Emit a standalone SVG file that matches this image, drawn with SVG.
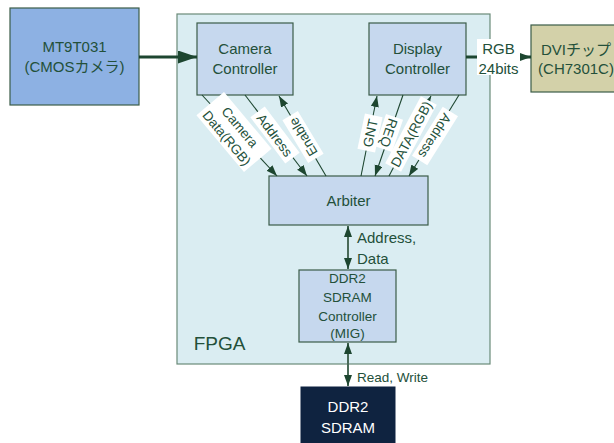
<svg xmlns="http://www.w3.org/2000/svg" width="614" height="443" viewBox="0 0 614 443">
<defs>
<style>
text{font-family:"Liberation Sans","Noto Sans CJK JP",sans-serif;fill:#23503a;text-anchor:middle}
.n{font-size:15px}
.s{font-size:13.5px}
.l{font-size:13.5px}
.box{fill:#c6d8ee;stroke:#3b5c48;stroke-width:1.2}
.lbl{fill:#ffffff}
.d{stroke:#1d4630;stroke-width:1.1;fill:none}
.v{stroke:#4a6a58;stroke-width:2;fill:none}
</style>
<marker id="ah" markerUnits="userSpaceOnUse" markerWidth="12" markerHeight="10" refX="11" refY="4" orient="auto">
<path d="M0,0 L11,4 L0,8 Z" fill="#1d4630"/>
</marker>
<marker id="ahs" markerUnits="userSpaceOnUse" markerWidth="12" markerHeight="10" refX="11" refY="4" orient="auto-start-reverse">
<path d="M0,0 L11,4 L0,8 Z" fill="#1d4630"/>
</marker>
<marker id="ahb" markerUnits="userSpaceOnUse" markerWidth="20" markerHeight="14" refX="19" refY="6.5" orient="auto">
<path d="M0,0 L19,6.5 L0,13 Z" fill="#1d4630"/>
</marker>
</defs>
<rect width="614" height="443" fill="#ffffff"/>
<g id="fpga">
<rect x="177" y="14" width="313" height="350" fill="#daedf2" stroke="#6a8a78" stroke-width="1.2"/>
<text x="219.5" y="350" style="font-size:19px">FPGA</text>
</g>
<g id="mt9t031">
<rect x="10" y="8" width="129" height="97" fill="#8db1e3" stroke="#3b5c48" stroke-width="1.2"/>
<text class="n" x="74.5" y="52">MT9T031</text>
<text class="n" x="74.5" y="71.5">(CMOSカメラ)</text>
</g>
<g id="camera">
<rect class="box" x="197" y="23" width="96" height="72"/>
<text class="n" x="245" y="54">Camera</text>
<text class="n" x="245" y="74">Controller</text>
</g>
<g id="display">
<rect class="box" x="369" y="23" width="97" height="72"/>
<text class="n" x="417.5" y="54">Display</text>
<text class="n" x="417.5" y="74">Controller</text>
</g>
<g id="dvi">
<rect x="531" y="25" width="92" height="67" fill="#d3d1a9" stroke="#3b5c48" stroke-width="1.2"/>
<text class="n" x="576" y="55">DVIチップ</text>
<text class="n" x="576" y="73.5">(CH7301C)</text>
</g>
<g id="arbiter">
<rect class="box" x="269" y="176" width="159" height="49"/>
<text class="n" x="348.5" y="205.5">Arbiter</text>
</g>
<g id="ddrctrl">
<rect class="box" x="299" y="270" width="97" height="72"/>
<text class="s" x="347.5" y="283">DDR2</text>
<text class="s" x="347.5" y="302">SDRAM</text>
<text class="s" x="347.5" y="320.5">Controller</text>
<text class="s" x="347.5" y="338">(MIG)</text>
</g>
<g id="ddr2">
<rect x="301" y="387" width="94" height="60" fill="#0f2340" stroke="#0f2340"/>
<text class="n" x="348" y="411.5" style="fill:#ffffff">DDR2</text>
<text class="n" x="348" y="432.5" style="fill:#ffffff">SDRAM</text>
</g>
<g id="connectors">
<line x1="139" y1="57" x2="197" y2="57" stroke="#1d4630" stroke-width="3" marker-end="url(#ahb)"/>
<line x1="466" y1="57" x2="531" y2="57" stroke="#1d4630" stroke-width="3" marker-end="url(#ah)"/>
<rect class="lbl" x="477" y="39" width="43" height="36"/>
<text class="n" x="498.5" y="53.5">RGB</text>
<text class="n" x="498.5" y="74">24bits</text>
<line class="v" x1="348" y1="226" x2="348" y2="269" marker-start="url(#ahs)" marker-end="url(#ah)"/>
<text class="n" x="357" y="242.5" style="text-anchor:start">Address,</text>
<text class="n" x="357" y="264" style="text-anchor:start">Data</text>
<line class="v" x1="348" y1="343" x2="348" y2="386" marker-start="url(#ahs)" marker-end="url(#ah)"/>
<text class="l" x="357" y="382" style="text-anchor:start">Read, Write</text>
<line class="d" x1="202" y1="95" x2="277" y2="176" marker-end="url(#ah)"/>
<line class="d" x1="245" y1="95" x2="307" y2="176" marker-end="url(#ah)"/>
<line class="d" x1="326" y1="176" x2="279" y2="96" marker-end="url(#ah)"/>
<line class="d" x1="361" y1="176" x2="377" y2="96" marker-end="url(#ah)"/>
<line class="d" x1="403" y1="95" x2="375" y2="176" marker-end="url(#ah)"/>
<line class="d" x1="389" y1="176" x2="431" y2="96" marker-end="url(#ah)"/>
<line class="d" x1="459" y1="95" x2="409" y2="176" marker-end="url(#ah)"/>
<g transform="translate(234,132) rotate(50)">
<rect class="lbl" x="-37" y="-18" width="74" height="36"/>
<text class="l" x="0" y="-3">Camera</text>
<text class="l" x="0" y="14">Data(RGB)</text>
</g>
<g transform="translate(275,135) rotate(53)">
<rect class="lbl" x="-29" y="-9" width="58" height="18"/>
<text class="l" x="0" y="5">Address</text>
</g>
<g transform="translate(303,137) rotate(-121)">
<rect class="lbl" x="-25" y="-9" width="50" height="18"/>
<text class="l" x="0" y="5">Enable</text>
</g>
<g transform="translate(370,133) rotate(-78)">
<rect class="lbl" x="-18" y="-9" width="36" height="18"/>
<text class="l" x="0" y="5">GNT</text>
</g>
<g transform="translate(389,133) rotate(109)">
<rect class="lbl" x="-17" y="-9" width="34" height="18"/>
<text class="l" x="0" y="5">REQ</text>
</g>
<g transform="translate(411,134) rotate(-62)">
<rect class="lbl" x="-38" y="-9" width="76" height="18"/>
<text class="l" x="0" y="5">DATA(RGB)</text>
</g>
<g transform="translate(435,136) rotate(122)">
<rect class="lbl" x="-29" y="-9" width="58" height="18"/>
<text class="l" x="0" y="5">Address</text>
</g>
</g>
</svg>
